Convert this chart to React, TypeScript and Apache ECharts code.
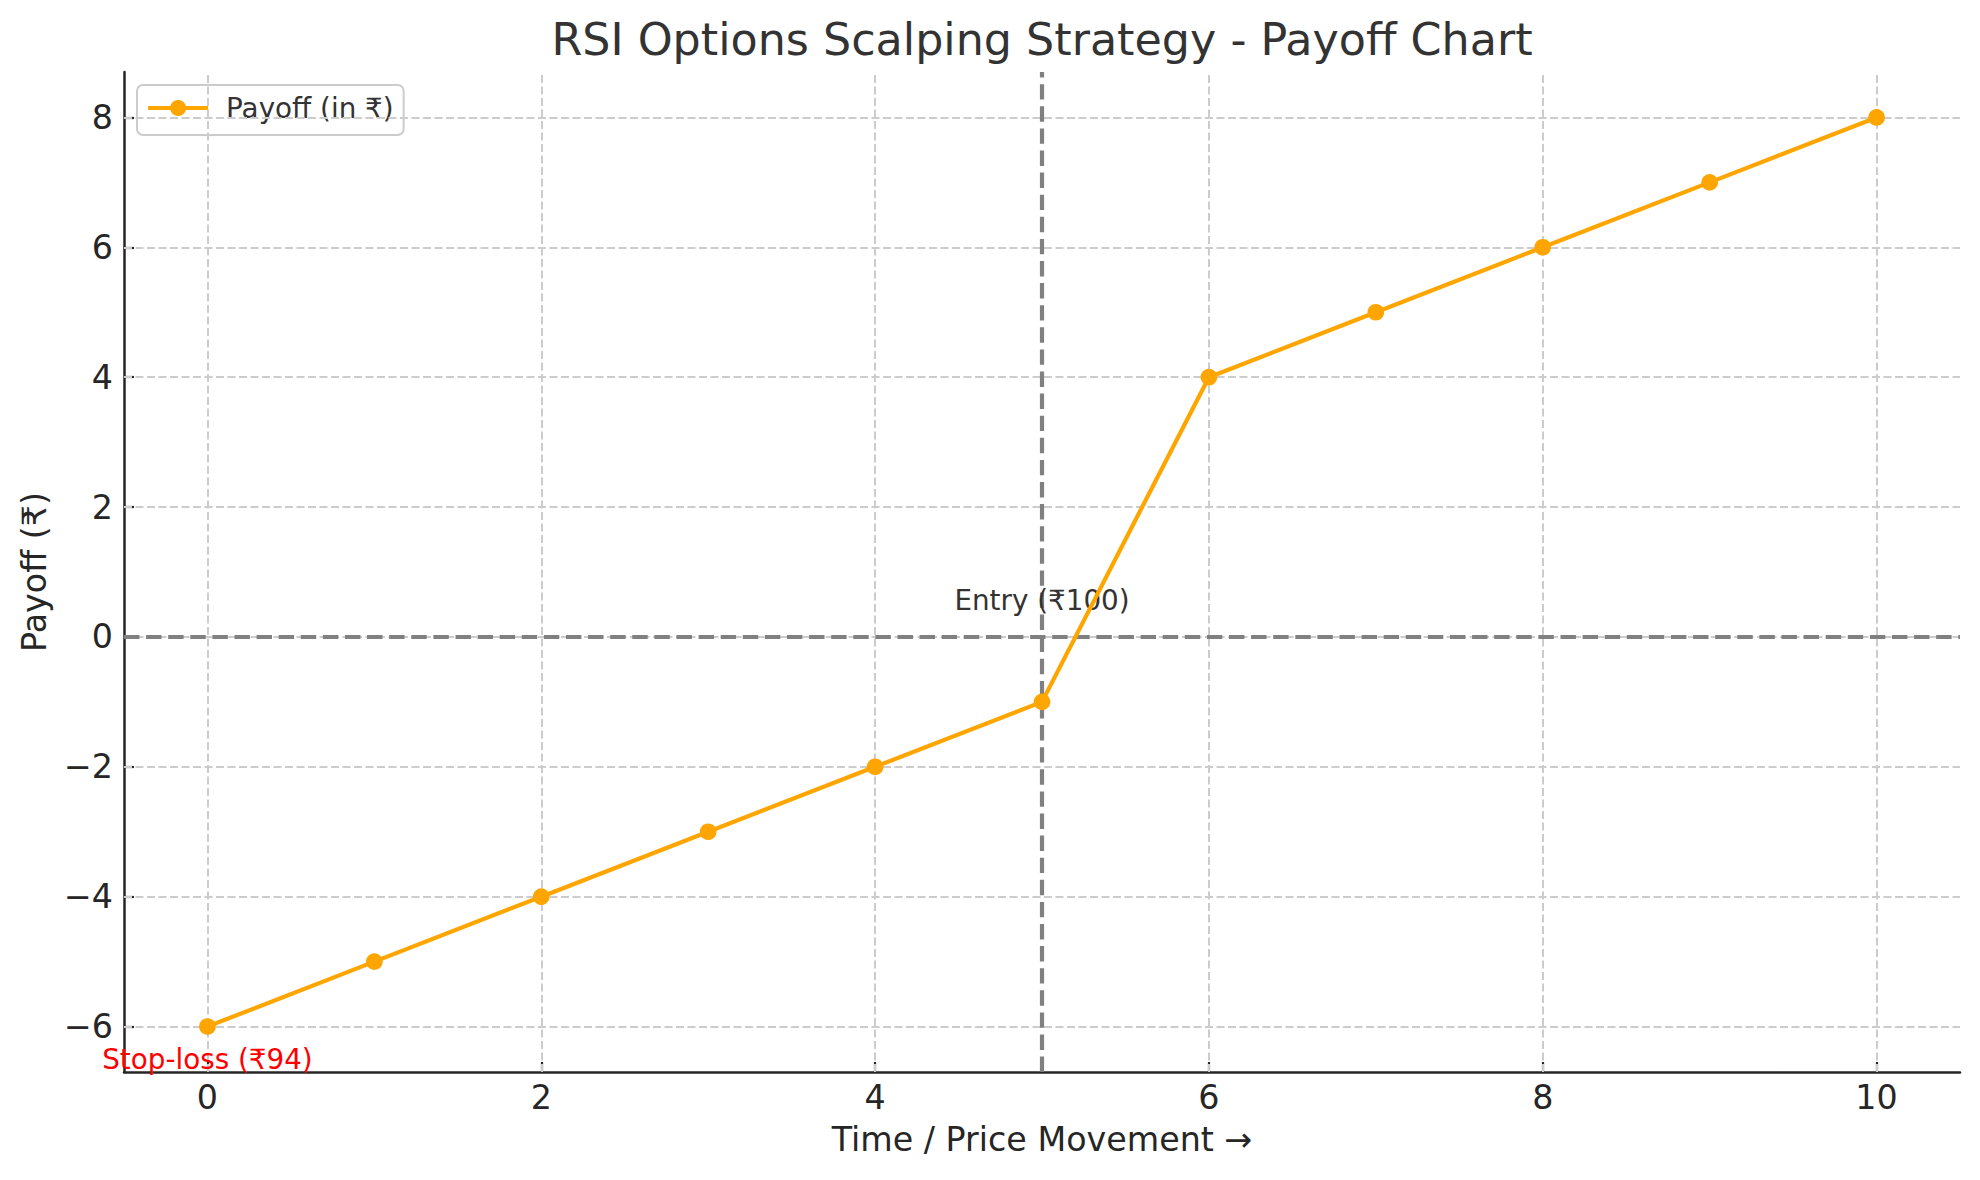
import React, { useEffect, useRef } from "react";
import * as echarts from "echarts";

const xValues = [0, 1, 2, 3, 4, 5, 6, 7, 8, 9, 10];
const payoff = [-6, -5, -4, -3, -2, -1, 4, 5, 6, 7, 8];
const xTicks = [0, 2, 4, 6, 8, 10];
const yTicks = [-6, -4, -2, 0, 2, 4, 6, 8];
const entryX = 5;
const zeroY = 0;
const entryLabel = "Entry (₹100)";
const entryAt = [5, 0.56];
const stopLabel = "Stop-loss (₹94)";
const stopAt = [0, -6.5];
const seriesName = "Payoff (in ₹)";
const titleText = "RSI Options Scalping Strategy - Payoff Chart";

const FONT = "'DejaVu Sans', sans-serif";
const fmt = (v: number) => String(v).replace("-", "\u2212");

export default function App() {
  const ref = useRef<HTMLDivElement>(null);
  useEffect(() => {
    const chart = echarts.init(ref.current!, null, { renderer: "svg" });
    const axisCommon = {
      type: "value",
      axisLine: { show: true, onZero: false, lineStyle: { color: "#262626", width: 2.5 } },
      splitLine: { show: false },
    };
    chart.setOption({
      animation: false,
      backgroundColor: "#ffffff",
      textStyle: { fontFamily: FONT },
      grid: { left: 124, right: 20, top: 72, bottom: 108, containLabel: false },
      graphic: [
        {
          type: "text",
          x: 1042,
          y: 39,
          style: {
            text: titleText,
            fontFamily: FONT,
            fontSize: 44.4,
            fill: "#333333",
            textAlign: "center",
            textVerticalAlign: "middle",
          },
        },
      ],
      legend: {
        data: [seriesName],
        left: 137,
        top: 85,
        padding: [9, 10, 13, 9],
        itemWidth: 60,
        itemHeight: 20,
        borderColor: "#cccccc",
        borderWidth: 2,
        borderRadius: 6,
        backgroundColor: "rgba(255,255,255,0.8)",
        lineStyle: { width: 4.2, color: "#ffa500" },
        textStyle: { fontFamily: FONT, fontSize: 27.8, color: "#333333", padding: [0, 0, 0, 13] },
      },
      xAxis: {
        ...axisCommon,
        min: -0.5,
        max: 10.5,
        name: "Time / Price Movement \u2192",
        nameLocation: "middle",
        nameGap: 51,
        nameTextStyle: { fontFamily: FONT, fontSize: 33.3, color: "#262626" },
        axisTick: { show: true, inside: true, length: 10, customValues: xTicks, lineStyle: { color: "#262626", width: 2.2 } },
        axisLabel: { customValues: xTicks, formatter: fmt, fontFamily: FONT, fontSize: 33.3, color: "#262626", margin: 9 },
      },
      yAxis: {
        ...axisCommon,
        min: -6.7,
        max: 8.7,
        name: "Payoff (₹)",
        nameLocation: "middle",
        nameRotate: 90,
        nameGap: 73,
        nameTextStyle: { fontFamily: FONT, fontSize: 33.3, color: "#262626" },
        axisTick: { show: true, inside: true, length: 10, customValues: yTicks, lineStyle: { color: "#262626", width: 2.2 } },
        axisLabel: { customValues: yTicks, formatter: fmt, fontFamily: FONT, fontSize: 33.3, color: "#262626", margin: 11 },
      },
      series: [
        {
          type: "line",
          data: [[xValues[0], payoff[0]]],
          symbol: "none",
          lineStyle: { opacity: 0 },
          silent: true,
          z: 1,
          markLine: {
            silent: true,
            symbol: ["none", "none"],
            label: { show: false },
            lineStyle: { color: "#cccccc", width: 2, type: [8, 3.5] },
            data: [
              ...xTicks.map((v) => ({ xAxis: v })),
              ...yTicks.map((v) => ({ yAxis: v })),
            ],
          },
        },
        {
          type: "line",
          data: [[xValues[0], payoff[0]]],
          symbol: "none",
          lineStyle: { opacity: 0 },
          silent: true,
          z: 2,
          markLine: {
            silent: true,
            symbol: ["none", "none"],
            label: { show: false },
            lineStyle: { color: "#808080", width: 4.2, type: [15.4, 6.7] },
            data: [{ yAxis: zeroY }, { xAxis: entryX }],
          },
          markPoint: {
            silent: true,
            symbol: "circle",
            symbolSize: 0,
            data: [
              {
                coord: entryAt,
                label: { show: true, position: "inside", formatter: entryLabel, fontFamily: FONT, fontSize: 27.8, color: "#333333" },
              },
              {
                coord: stopAt,
                label: { show: true, position: "inside", formatter: stopLabel, fontFamily: FONT, fontSize: 27.8, color: "#ff0000" },
              },
            ],
          },
        },
        {
          name: seriesName,
          type: "line",
          data: xValues.map((x, i) => [x, payoff[i]]),
          color: "#ffa500",
          lineStyle: { color: "#ffa500", width: 4.2 },
          itemStyle: { color: "#ffa500" },
          symbol: "circle",
          symbolSize: 16.7,
          z: 10,
        },
      ],
    });
    return () => chart.dispose();
  }, []);
  return (
    <div
      ref={ref}
      style={{ position: "fixed", left: 0, top: 0, width: 1980, height: 1180, background: "#fff" }}
    />
  );
}
